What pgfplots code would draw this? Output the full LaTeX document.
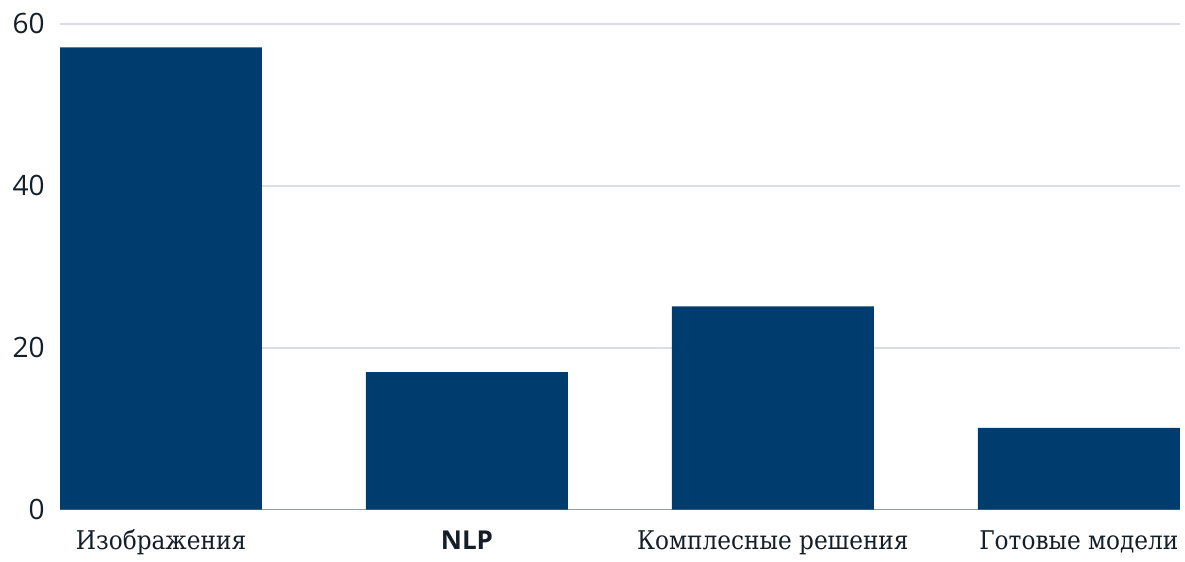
\documentclass[border=0pt]{standalone}
\usepackage{fontspec}
\setmainfont{Open Sans}
\newfontfamily\cyr{DejaVu Serif Condensed}
\usepackage{pgfplots}
\pgfplotsset{compat=1.18}
\definecolor{barblue}{RGB}{0,61,110}
\definecolor{gridc}{RGB}{218,222,227}
\definecolor{axc}{RGB}{150,156,162}
\definecolor{txt}{RGB}{20,30,40}

\begin{document}
\begin{tikzpicture}
\begin{axis}[
  scale only axis,
  width=560bp, height=243bp,
  xmin=-0.33, xmax=3.33, ymin=0, ymax=60,
  axis x line*=bottom, axis y line*=left,
  x axis line style={axc, line width=0.8pt, -},
  y axis line style={draw=none},
  ytick={0,20,40,60},
  ymajorgrids, grid style={gridc, line width=0.8pt},
  major tick length=0pt,
  xtick=data,
  xticklabels={{\cyr Изображения}, {\fontsize{13bp}{16bp}\selectfont\bfseries NLP}, {\cyr Комплесные решения}, {\cyr Готовые модели}},
  xticklabel style={anchor=base, yshift=-20bp, font=\fontsize{12.9bp}{16bp}\selectfont, text=txt},
  /pgf/number format/assume math mode=true,
  yticklabel style={anchor=east, inner sep=0pt, xshift=-7.5bp, font=\fontsize{14bp}{16bp}\selectfont, text=txt},
  clip=false,
]
\addplot[ybar, bar width=0.66, fill=barblue, draw=none] coordinates {
  (0,57.1) (1,17.0) (2,25.1) (3,10.1)};
% frame of the picture
\path (rel axis cs:-0.0536,-0.0926) rectangle (rel axis cs:1.0045,1.049);
\end{axis}
\end{tikzpicture}
\end{document}
